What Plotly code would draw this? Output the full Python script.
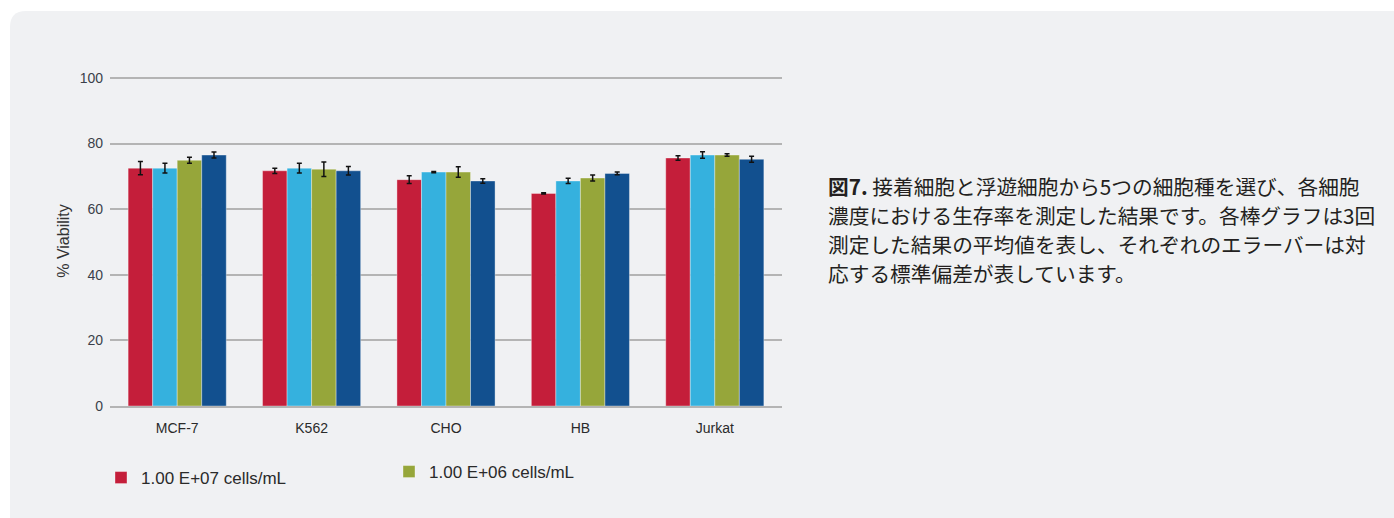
import plotly.graph_objects as go

# Cell lines and viability (%) for each seeding density, mean of 3 runs with SD
cell_lines = ["MCF-7", "K562", "CHO", "HB", "Jurkat"]

density_names = ["1.00 E+07 cells/mL", "5.00 E+06 cells/mL",
                 "1.00 E+06 cells/mL", "5.00 E+05 cells/mL"]

viability_e7 = [72.5, 71.7, 69.0, 64.8, 75.6]
viability_5e6 = [72.5, 72.5, 71.3, 68.6, 76.5]
viability_e6 = [74.9, 72.2, 71.3, 69.5, 76.5]
viability_5e5 = [76.5, 71.7, 68.6, 70.9, 75.2]

sd_e7 = [2.0, 0.8, 1.2, 0.2, 0.7]
sd_5e6 = [1.5, 1.5, 0.2, 0.8, 1.0]
sd_e6 = [0.9, 2.2, 1.6, 0.9, 0.4]
sd_5e5 = [0.9, 1.3, 0.7, 0.4, 0.9]

y_ticks = [0, 20, 40, 60, 80, 100]

caption_lines = [
    "<b>図7.</b> 接着細胞と浮遊細胞から5つの細胞種を選び、各細胞",
    "濃度における生存率を測定した結果です。各棒グラフは3回",
    "測定した結果の平均値を表し、それぞれのエラーバーは対",
    "応する標準偏差が表しています。",
]

colors = ["#c41e3a", "#35b1de", "#96a63a", "#12508f"]
values = [viability_e7, viability_5e6, viability_e6, viability_5e5]
errors = [sd_e7, sd_5e6, sd_e6, sd_5e5]
legend_ids = ["legend", None, "legend2", None]

W, H = 1394, 518
Y_MAX = 100.6                      # a little headroom so the 100 gridline shows
PX_PER_UNIT = 3.28
L, R, B = 110, 782, 406            # plot area in pixels
T = round(B - PX_PER_UNIT * Y_MAX)


def px_x(p):
    return (p - L) / (R - L)


def px_y(p):
    return (B - p) / (B - T)


fig = go.Figure()
for name, vals, errs, col, lg in zip(density_names, values, errors, colors, legend_ids):
    fig.add_trace(go.Bar(
        x=cell_lines, y=vals, name=name,
        marker=dict(color=col, line=dict(color="rgba(255,255,255,0.35)", width=1)),
        error_y=dict(type="data", array=errs, visible=True,
                     color="#111111", thickness=1.5, width=2.5),
        showlegend=lg is not None,
        legend=lg if lg else "legend",
    ))

# rounded light panel behind the chart
x0, x1 = px_x(10), px_x(1420)
y0, y1 = px_y(11), px_y(540)
rx, ry = 16 / (R - L), 16 / (B - T)
panel = (f"M {x0},{y1} L {x0},{y0 - ry} Q {x0},{y0} {x0 + rx},{y0} "
         f"L {x1},{y0} L {x1},{y1} Z")
fig.add_shape(type="path", path=panel, xref="paper", yref="paper",
              fillcolor="#f0f1f3", line=dict(width=0), layer="below")

for i, line in enumerate(caption_lines):
    fig.add_annotation(
        text=line, xref="paper", yref="paper",
        x=px_x(826), y=px_y(186 + 29 * i), xanchor="left", yanchor="middle",
        showarrow=False, align="left",
        font=dict(family="Noto Sans CJK JP", size=20.7, color="#231f20"),
    )

label_font = dict(family="Liberation Sans Narrow, Liberation Sans, sans-serif",
                  size=17, color="#2a2a2a")

fig.update_layout(
    width=W, height=H,
    margin=dict(l=L, r=W - R, t=T, b=H - B),
    paper_bgcolor="white",
    plot_bgcolor="rgba(0,0,0,0)",
    barmode="group", bargap=0.27, bargroupgap=0,
    legend=dict(x=px_x(101), y=px_y(478), xanchor="left", yanchor="middle",
                bgcolor="rgba(0,0,0,0)", font=label_font),
    legend2=dict(x=px_x(389), y=px_y(472), xanchor="left", yanchor="middle",
                 bgcolor="rgba(0,0,0,0)", font=label_font),
    font=dict(family="Liberation Sans, Arial, sans-serif", color="#333333"),
)

fig.update_yaxes(
    range=[0, Y_MAX], tickvals=y_ticks, showgrid=True,
    gridcolor="#b4b4b4", gridwidth=1.5, zeroline=False,
    ticks="", ticklabelstandoff=6,
    tickfont=dict(family="Liberation Sans, Arial, sans-serif", size=14, color="#3a3f4a"),
    title=dict(text="% Viability", standoff=6,
               font=dict(family="Liberation Sans, Arial, sans-serif", size=16, color="#333333")),
)
fig.update_xaxes(
    showline=True, linecolor="#b4b4b4", linewidth=1.5,
    ticks="", ticklabelstandoff=8,
    tickfont=dict(family="Liberation Sans Narrow, Liberation Sans, sans-serif",
                  size=14, color="#2a2a2a"),
)

fig.write_html("out.html")
